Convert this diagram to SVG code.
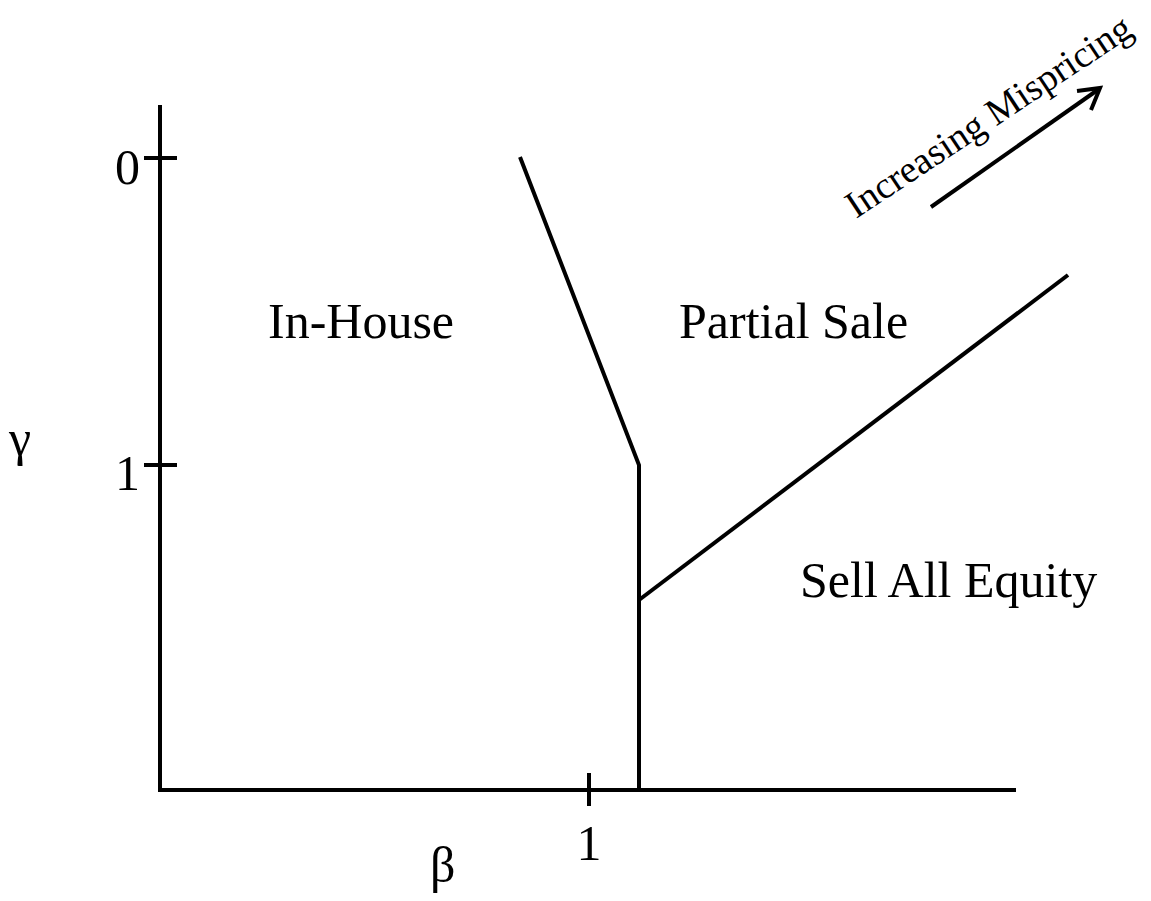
<svg xmlns="http://www.w3.org/2000/svg" width="1151" height="901" viewBox="0 0 1151 901">
<style>
.ln{stroke:#000;stroke-width:4;fill:none}
.t{font-family:"Liberation Serif","Times New Roman",serif;fill:#000}
.lab{font-size:50px}
.num{font-size:50px}
</style>
<rect width="1151" height="901" fill="#fff"/>
<g id="axes">
<line class="ln" x1="160" y1="105" x2="160" y2="792"/>
<line class="ln" x1="158" y1="790" x2="1016" y2="790"/>
<line class="ln" x1="144" y1="158" x2="177" y2="158"/>
<line class="ln" x1="144" y1="465" x2="177" y2="465"/>
<line class="ln" x1="589" y1="773" x2="589" y2="806"/>
<text class="t num" x="140" y="184" text-anchor="end">0</text>
<text class="t num" x="140" y="490" text-anchor="end">1</text>
<text class="t num" x="589" y="860" text-anchor="middle">1</text>
<text class="t num" x="9" y="455">γ</text>
<text class="t num" x="430" y="882">β</text>
</g>
<g id="connectors">
<polyline class="ln" points="520,157 639,465 639,790"/>
<line class="ln" x1="639" y1="600" x2="1068" y2="275"/>
<line class="ln" x1="931" y1="207" x2="1099" y2="89"/>
<polyline class="ln" points="1077,91 1100,88 1091,110"/>
</g>
<g id="in-house"><text class="t lab" x="268" y="338">In-House</text></g>
<g id="partial-sale"><text class="t lab" x="679" y="338">Partial Sale</text></g>
<g id="sell-all"><text class="t lab" x="800" y="597">Sell All Equity</text></g>
<g id="mispricing"><text class="t" font-size="38" transform="translate(856,219) rotate(-33.5)">Increasing Mispricing</text></g>
</svg>
